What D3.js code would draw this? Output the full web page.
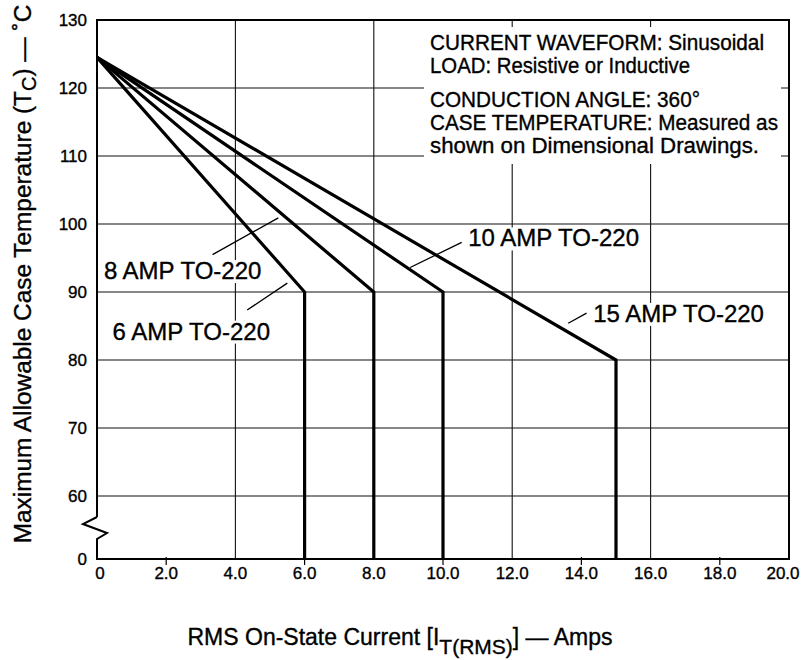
<!DOCTYPE html>
<html>
<head>
<meta charset="utf-8">
<script src="https://cdn.jsdelivr.net/npm/d3@7"></script>
<style>
body { margin: 0; background: #fff; }
text { font-family: "Liberation Sans", Arial, Helvetica, sans-serif; fill: #000; stroke: #000; stroke-width: 0.35px; }
</style>
</head>
<body>
<div id="chart"></div>
<script>
var width = 803;
var height = 660;

// values
var ratings = [6, 8, 10, 15];          // amps where each curve drops
var kneeTemps = [90, 90, 90, 80];      // deg C at the knee
var startTemp = 124.5;                 // all curves start here at 0 A
var labels = ["6 AMP TO-220", "8 AMP TO-220", "10 AMP TO-220", "15 AMP TO-220"];
var labelPos = [[0.45, 83.0], [0.2, 91.9], [10.73, 96.7], [14.34, 85.6]];
var leaderFrom = [[4.34, 87.35], [3.34, 95.5], [9.05, 93.6], [13.62, 85.4]];
var leaderTo = [[5.50, 91.3], [5.24, 100.9], [10.54, 97.3], [14.15, 86.9]];

var xTicks = [0, 2, 4, 6, 8, 10, 12, 14, 16, 18, 20];
var xGrid = [4, 8, 12, 16];
var xMinor = [2, 6, 10, 14, 18];
var yTicks = [0, 60, 70, 80, 90, 100, 110, 120, 130];
var yGrid = [60, 70, 80, 90, 100, 110, 120];

var notes = [
    "CURRENT WAVEFORM: Sinusoidal",
    "LOAD: Resistive or Inductive",
    "CONDUCTION ANGLE: 360\u00b0",
    "CASE TEMPERATURE: Measured as",
    "shown on Dimensional Drawings."
];
// layout of the note lines: baseline offset and printed width
var noteDy = [0, 23, 57, 80, 103];
var noteW = [334, 260, 270, 348, 329];

var svg = d3.select("#chart").append("svg")
    .attr("width", width).attr("height", height);

var x = d3.scaleLinear().domain([0, 20]).range([97, 789]);
// broken axis: 0 sits just below 60
var y = d3.scaleLinear().domain([0, 60, 130]).range([559, 496, 20]);

// grid
svg.selectAll(".hgrid").data(yGrid).enter().append("line")
    .attr("x1", x(0)).attr("x2", x(20))
    .attr("y1", d => y(d)).attr("y2", d => y(d))
    .style("stroke", "#111").style("stroke-width", 1.1);
svg.selectAll(".vgrid").data(xGrid).enter().append("line")
    .attr("x1", d => x(d)).attr("x2", d => x(d))
    .attr("y1", y(130)).attr("y2", y(0))
    .style("stroke", "#111").style("stroke-width", 1.1);

// minor ticks under the axis
svg.selectAll(".minor").data(xMinor).enter().append("line")
    .attr("x1", d => x(d)).attr("x2", d => x(d))
    .attr("y1", y(0) - 2).attr("y2", y(0) + 6)
    .style("stroke", "#000").style("stroke-width", 1.2);

// frame: top, right, bottom, left with the break zigzag
var left = x(0), yb = y(0);
var frame = d3.path();
frame.moveTo(left, yb - 42);
frame.lineTo(left, y(130));
frame.lineTo(x(20), y(130));
frame.lineTo(x(20), yb);
frame.lineTo(left, yb);
frame.lineTo(left, yb - 20);
frame.lineTo(left + 10, yb - 26);
frame.lineTo(left - 14, yb - 35);
frame.lineTo(left, yb - 42);
svg.append("path").attr("d", frame.toString())
    .style("fill", "none").style("stroke", "#000").style("stroke-width", 2)
    .style("stroke-linejoin", "miter");

// note box (white, hides grid)
var boxL = x(20) - 365, boxT = y(130) + 7;
svg.append("rect")
    .attr("x", boxL).attr("y", boxT)
    .attr("width", 357).attr("height", 137)
    .style("fill", "#fff");
svg.selectAll(".note").data(notes).enter().append("text")
    .attr("x", boxL + 6).attr("y", (d, i) => boxT + 23 + noteDy[i])
    .attr("textLength", (d, i) => noteW[i])
    .attr("lengthAdjust", "spacingAndGlyphs")
    .style("font-size", "21.5px")
    .text(d => d);

// curve labels with white backing
labels.forEach(function(t, i) {
    var g = svg.append("g");
    var txt = g.append("text")
        .attr("x", x(labelPos[i][0])).attr("y", y(labelPos[i][1]))
        .style("font-size", "24px")
        .text(t);
    var bb = txt.node().getBBox();
    g.insert("rect", "text")
        .attr("x", bb.x - 2).attr("y", bb.y + 3)
        .attr("width", bb.width + 4).attr("height", bb.height - 4)
        .style("fill", "#fff");
    svg.append("line")
        .attr("x1", x(leaderFrom[i][0])).attr("y1", y(leaderFrom[i][1]))
        .attr("x2", x(leaderTo[i][0])).attr("y2", y(leaderTo[i][1]))
        .style("stroke", "#000").style("stroke-width", 1.3);
});

// derating curves
var line = d3.line().x(d => x(d[0])).y(d => y(d[1]));
ratings.forEach(function(r, i) {
    var pts = [[0, startTemp], [r, kneeTemps[i]], [r, 0]];
    svg.append("path").attr("d", line(pts))
        .style("fill", "none").style("stroke", "#000")
        .style("stroke-width", 3.2).style("stroke-linejoin", "miter");
});

// tick labels
svg.selectAll(".xl").data(xTicks).enter().append("text")
    .attr("x", d => x(d) + (d === 0 ? 3 : d === 20 ? -6 : 0)).attr("y", yb + 20)
    .attr("text-anchor", "middle")
    .style("font-size", "17px")
    .text(d => d === 0 ? "0" : d.toFixed(1));
svg.selectAll(".yl").data(yTicks).enter().append("text")
    .attr("x", left - 10).attr("y", d => y(d)).attr("dy", "0.35em")
    .attr("text-anchor", "end")
    .style("font-size", "17px")
    .text(d => d);

// axis titles
var xt = svg.append("text")
    .attr("x", 400).attr("y", 645)
    .attr("text-anchor", "middle")
    .style("font-size", "23px");
xt.append("tspan").text("RMS On-State Current [I");
xt.append("tspan").attr("dy", 9).style("font-size", "21px").text("T(RMS)");
xt.append("tspan").attr("dy", -9).text("] \u2014 Amps");

var yt = svg.append("text")
    .attr("transform", "translate(31,274) rotate(-90)")
    .attr("text-anchor", "middle")
    .style("font-size", "24.4px");
yt.append("tspan").text("Maximum Allowable Case Temperature (T");
yt.append("tspan").attr("dy", 5).style("font-size", "20px").text("C");
yt.append("tspan").attr("dy", -5).text(") \u2014 \u02daC");
</script>
</body>
</html>
